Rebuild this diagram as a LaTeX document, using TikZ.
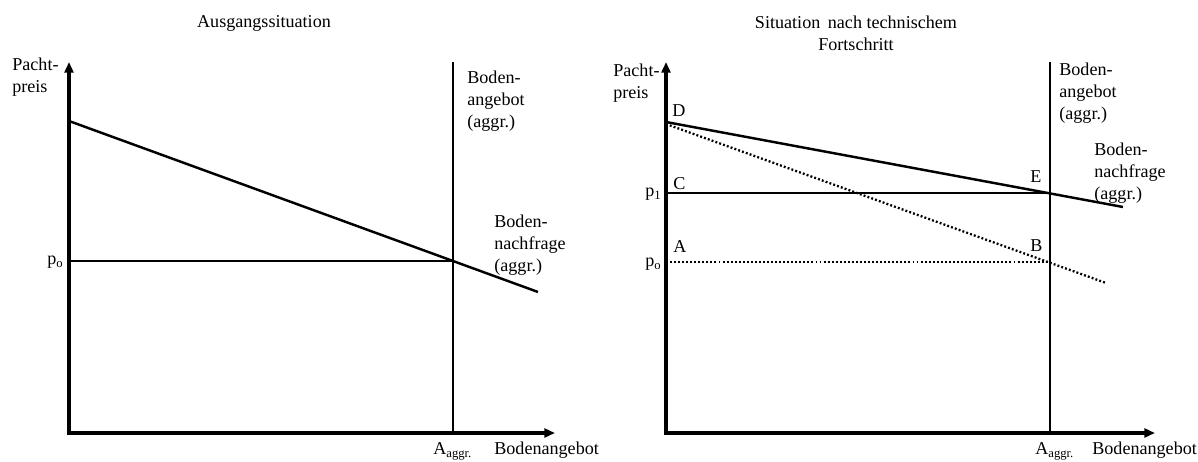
\documentclass[tikz,border=0pt]{standalone}
\usepackage{fontspec}
\setmainfont{Liberation Serif}
\usetikzlibrary{arrows.meta}
\tikzset{
  axis/.style={line width=1.8pt,{Triangle[length=6pt,width=5pt]}-{Triangle[length=6pt,width=5pt]}},
  curve/.style={line width=1.4pt},
  level/.style={line width=1.1pt},
  dotline/.style={line width=1.3pt,dash pattern=on 1.1pt off 1.2pt},
  lbl/.style={inner sep=0pt,font=\fontsize{10.3}{12.3}\selectfont},
  stack/.style={lbl,align=left,anchor=north west},
}
\begin{document}
\begin{tikzpicture}[x=0.02cm,y=-0.02cm]
      \useasboundingbox (0,0) rectangle (1198,462);
      \node [lbl,anchor=base] (T1) at (264,28) {Ausgangssituation};
      \coordinate (Y1) at (69,62);
      \coordinate (O1) at (69,433);
      \coordinate (X1) at (555,433);
      \coordinate (S1) at (453,62);
      \coordinate (A1) at (453,433);
      \coordinate (D1) at (69,121);
      \coordinate (N1) at (538,292);
      \coordinate (P1) at (69,261);
      \coordinate (G1) at (453,261);
      \draw [axis] (Y1) -- (O1) -- (X1);
      \draw [level] (S1) -- (A1);
      \draw [curve] (D1) -- (N1);
      \draw [level] (P1) -- (G1);
      \node [stack] (L1) at (12,58) {Pacht-\\preis};
      \node [lbl,anchor=base east] (p1o) at (64,265) {p\textsubscript{o}};
      \node [stack] (B1) at (467,71) {Boden-\\angebot\\(aggr.)};
      \node [stack] (F1) at (494,215) {Boden-\\nachfrage\\(aggr.)};
      \node [lbl,anchor=base west] (Q1) at (433,455) {A\textsubscript{aggr.}};
      \node [lbl,anchor=base west] (R1) at (494,455) {Bodenangebot};
      \node [lbl,anchor=north,align=center] (T2) at (856,16) {Situation\, nach technischem\\Fortschritt};
      \coordinate (Y2) at (666,62);
      \coordinate (O2) at (666,433);
      \coordinate (X2) at (1155,433);
      \coordinate (S2) at (1050,62);
      \coordinate (A2) at (1050,433);
      \coordinate (D2) at (666,122);
      \coordinate (N2) at (1123,207);
      \coordinate (D2b) at (666,124);
      \coordinate (N2b) at (1106,283);
      \coordinate (C2) at (666,193);
      \coordinate (E2) at (1050,193);
      \coordinate (A2o) at (666,262);
      \coordinate (B2) at (1050,262);
      \draw [axis] (Y2) -- (O2) -- (X2);
      \draw [level] (S2) -- (A2);
      \draw [curve] (D2) -- (N2);
      \draw [dotline] (D2b) -- (N2b);
      \draw [level] (C2) -- (E2);
      \draw [dotline] (A2o) -- (B2);
      \node [stack] (L2) at (613,64) {Pacht-\\preis};
      \node [lbl,anchor=base east] (p21) at (662,197) {p\textsubscript{1}};
      \node [lbl,anchor=base east] (p2o) at (662,267) {p\textsubscript{o}};
      \node [lbl,anchor=base west] (nD) at (672,117) {D};
      \node [lbl,anchor=base west] (nC) at (673,190) {C};
      \node [lbl,anchor=base west] (nA) at (673,253) {A};
      \node [lbl,anchor=base west] (nE) at (1030,183) {E};
      \node [lbl,anchor=base west] (nB) at (1030,252) {B};
      \node [stack] (B2l) at (1059,63) {Boden-\\angebot\\(aggr.)};
      \node [stack] (F2) at (1094,143) {Boden-\\nachfrage\\(aggr.)};
      \node [lbl,anchor=base west] (Q2) at (1035,455) {A\textsubscript{aggr.}};
      \node [lbl,anchor=base west] (R2) at (1092,455) {Bodenangebot};
    \end{tikzpicture}
\end{document}
